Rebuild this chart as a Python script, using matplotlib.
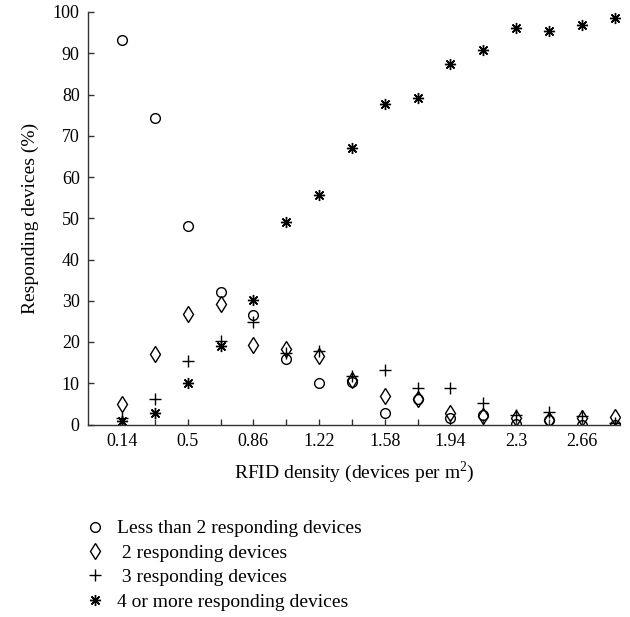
import matplotlib
matplotlib.use("Agg")
import matplotlib.pyplot as plt
from matplotlib.lines import Line2D

plt.rcParams['font.family'] = ['Liberation Serif', 'DejaVu Serif']
plt.rcParams['mathtext.fontset'] = 'custom'
plt.rcParams['mathtext.rm'] = 'Liberation Serif'

density = [0.14, 0.32, 0.5, 0.68, 0.86, 1.04, 1.22, 1.40,
           1.58, 1.76, 1.94, 2.12, 2.3, 2.48, 2.66, 2.84]
tick_labels = ['0.14', '', '0.5', '', '0.86', '', '1.22', '',
               '1.58', '', '1.94', '', '2.3', '', '2.66', '']

less_than_2 = [93.3, 74.4, 48.1, 32.1, 26.5, 15.8, 10.1, 10.3,
               2.8, 6.2, 1.6, 2.4, 0.2, 1.0, 0.0, 0.0]
two_dev = [5.0, 17.2, 26.9, 29.1, 19.2, 18.4, 16.6, 10.9,
           6.9, 6.3, 2.8, 2.0, 1.6, 1.2, 1.6, 1.9]
three_dev = [1.6, 6.1, 15.4, 20.2, 24.8, 17.4, 17.8, 11.7,
             13.2, 8.9, 8.9, 5.3, 2.4, 3.1, 2.0, 0.4]
four_plus = [0.8, 2.8, 10.0, 19.0, 30.2, 49.0, 55.6, 67.0,
             77.7, 79.1, 87.4, 90.8, 96.1, 95.4, 96.8, 98.5]

labels = ['Less than 2 responding devices', ' 2 responding devices',
          ' 3 responding devices', '4 or more responding devices']

fig = plt.figure(figsize=(6.3, 6.17), dpi=100)
ax = fig.add_axes([88 / 630, 1 - 424.5 / 617, 532 / 630, 412.5 / 617])

ax.plot(density, less_than_2, linestyle='none', marker='o', ms=7,
        mfc='none', mec='black', mew=1.0)
ax.plot(density, two_dev, linestyle='none', marker='d', ms=8.5,
        mfc='none', mec='black', mew=1.0)
ax.plot(density, three_dev, linestyle='none', marker='+', ms=8,
        mec='black', mew=1.0)
ax.plot(density, four_plus, linestyle='none', marker=(8, 2, 0), ms=8,
        mec='black', mew=1.0)
ax.plot(density, four_plus, linestyle='none', marker='o', ms=2.5,
        mfc='black', mec='black')

ax.set_xlim(-0.047, 2.87)
ax.set_ylim(0, 100)
ax.set_yticks(range(0, 101, 10))
ax.set_xticks(density)
ax.set_xticklabels(tick_labels)

for side in ['top', 'right']:
    ax.spines[side].set_visible(False)
for side in ['left', 'bottom']:
    ax.spines[side].set_color('#333333')
    ax.spines[side].set_linewidth(1.0)
ax.tick_params(direction='in', length=4, width=1, colors='#333333',
               labelcolor='black', labelsize=13, pad=6)

ax.set_xlabel('RFID density (devices per m$^2$)', fontsize=14, labelpad=7)
ax.set_ylabel('Responding devices (%)', fontsize=14, labelpad=10)

handles = [
    Line2D([], [], linestyle='none', marker='o', ms=7, mfc='none', mec='black'),
    Line2D([], [], linestyle='none', marker='d', ms=8.5, mfc='none', mec='black'),
    Line2D([], [], linestyle='none', marker='+', ms=8, mec='black'),
    Line2D([], [], linestyle='none', marker=(8, 2, 0), ms=8, mec='black'),
]
fig.legend(handles, labels, loc='upper left', bbox_to_anchor=(77 / 630, 1 - 512 / 617),
           frameon=False, fontsize=14, handlelength=1.0, handletextpad=0.65,
           labelspacing=0.35, borderaxespad=0)

fig.savefig('out.png', dpi=100)
